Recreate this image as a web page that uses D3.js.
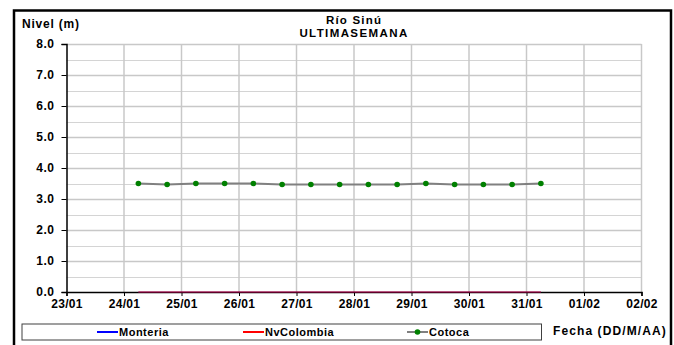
<!DOCTYPE html>
<html><head><meta charset="utf-8">
<script src="https://cdn.jsdelivr.net/npm/d3@7"></script>
<style>body{margin:0;background:#fff}svg{display:block}text{font-family:"Liberation Sans",Arial,sans-serif;font-weight:bold;fill:#000}</style>
</head><body>
<script>
const pointTimes = ["2024-01-24T06:00","2024-01-24T18:00","2024-01-25T06:00","2024-01-25T18:00","2024-01-26T06:00","2024-01-26T18:00","2024-01-27T06:00","2024-01-27T18:00","2024-01-28T06:00","2024-01-28T18:00","2024-01-29T06:00","2024-01-29T18:00","2024-01-30T06:00","2024-01-30T18:00","2024-01-31T06:00"];
const monteria   = [0,0,0,0,0,0,0,0,0,0,0,0,0,0,0];
const nvColombia = [0,0,0,0,0,0,0,0,0,0,0,0,0,0,0];
const cotoca     = [3.50,3.47,3.50,3.50,3.50,3.47,3.47,3.47,3.47,3.47,3.50,3.47,3.47,3.47,3.50];
const xTickDates = ["2024-01-23","2024-01-24","2024-01-25","2024-01-26","2024-01-27","2024-01-28","2024-01-29","2024-01-30","2024-01-31","2024-02-01","2024-02-02"];
const yTicks = [0,1,2,3,4,5,6,7,8];
const yMinor = [0.5,1.5,2.5,3.5,4.5,5.5,6.5,7.5];
const seriesNames = ["Monteria","NvColombia","Cotoca"];

const W=674,H=345;
const parse = s => new Date(s);
const svg = d3.select("body").append("svg").attr("width",W).attr("height",H);
const L=66.5,R=641.5,T=44,B=292;
const x = d3.scaleTime().domain([parse(xTickDates[0]+"T00:00"),parse(xTickDates[xTickDates.length-1]+"T00:00")]).range([L,R]);
const y = d3.scaleLinear().domain([0,8]).range([B,T]);

// outer border
svg.append("rect").attr("x",14).attr("y",10.5).attr("width",657).attr("height",345).attr("fill","none").attr("stroke","#000").attr("stroke-width",2.5);

// grid
const g = svg.append("g");
g.selectAll(".ym").data(yMinor).join("line").attr("x1",L).attr("x2",R).attr("y1",d=>Math.round(y(d))+0.5).attr("y2",d=>Math.round(y(d))+0.5).attr("stroke","#d4d4d4").attr("stroke-width",1.2);
g.selectAll(".yg").data(yTicks.slice(1)).join("line").attr("x1",L).attr("x2",R).attr("y1",d=>Math.round(y(d))+0.5).attr("y2",d=>Math.round(y(d))+0.5).attr("stroke","#c8c8c8").attr("stroke-width",1.5);
g.selectAll(".xg").data(xTickDates.slice(1)).join("line").attr("x1",d=>x(parse(d+"T00:00"))).attr("x2",d=>x(parse(d+"T00:00"))).attr("y1",T).attr("y2",B).attr("stroke","#c8c8c8").attr("stroke-width",1.5);

// axes
const yAxis = d3.axisLeft(y).tickValues(yTicks).tickFormat(d3.format(".1f")).tickSize(5).tickPadding(7);
const ya = svg.append("g").attr("transform",`translate(${L},0)`).call(yAxis);
ya.select(".domain").attr("stroke","#000").attr("stroke-width",1.5);
ya.selectAll("text").style("font-size","12px").style("letter-spacing","0.5px");
const xAxis = d3.axisBottom(x).tickValues(xTickDates.map(d=>parse(d+"T00:00"))).tickFormat(d3.timeFormat("%d/%m")).tickSize(4).tickPadding(3);
const xa = svg.append("g").attr("transform",`translate(0,${B})`).call(xAxis);
xa.select(".domain").attr("stroke","#000").attr("stroke-width",1.5);
xa.selectAll("text").style("font-size","12px").style("letter-spacing","0.3px");

// series
const pts = arr => arr.map((v,i)=>[x(parse(pointTimes[i])),y(v)]);
const line = d3.line();
svg.append("path").attr("d",line(pts(monteria))).attr("fill","none").attr("stroke","#0000ff").attr("stroke-opacity",0.35).attr("stroke-width",1.6);
svg.append("path").attr("d",line(pts(nvColombia))).attr("fill","none").attr("stroke","#ff0000").attr("stroke-opacity",0.5).attr("stroke-width",1.6);
svg.append("path").attr("d",line(pts(cotoca))).attr("fill","none").attr("stroke","#808080").attr("stroke-width",2);
svg.selectAll(".pt").data(pts(cotoca)).join("circle").attr("cx",d=>d[0]).attr("cy",d=>d[1]).attr("r",2.8).attr("fill","#008000");

// titles
svg.append("text").attr("x",354).attr("y",24).attr("text-anchor","middle").style("font-size","11.5px").style("letter-spacing","1.2px").text("Río Sinú");
svg.append("text").attr("x",354).attr("y",36.5).attr("text-anchor","middle").style("font-size","11.5px").style("letter-spacing","1.4px").text("ULTIMASEMANA");
svg.append("text").attr("x",22).attr("y",28).style("font-size","12px").style("letter-spacing","0.8px").text("Nivel (m)");
svg.append("text").attr("x",553).attr("y",335).style("font-size","12px").style("letter-spacing","1.1px").text("Fecha (DD/M/AA)");

// legend
svg.append("rect").attr("x",22).attr("y",324).attr("width",519.5).attr("height",16).attr("fill","#fff").attr("stroke","#404040").attr("stroke-width",1);
const legX = [97,243,407];
const legColors = ["#0000ff","#ff0000","#808080"];
seriesNames.forEach((n,i)=>{
  svg.append("line").attr("x1",legX[i]).attr("x2",legX[i]+21).attr("y1",332).attr("y2",332).attr("stroke",legColors[i]).attr("stroke-width",2);
  if(i===2) svg.append("circle").attr("cx",legX[i]+10.5).attr("cy",332).attr("r",2.8).attr("fill","#008000");
  svg.append("text").attr("x",legX[i]+22).attr("y",336).style("font-size","11px").style("letter-spacing","0.5px").text(n);
});
</script>
</body></html>
